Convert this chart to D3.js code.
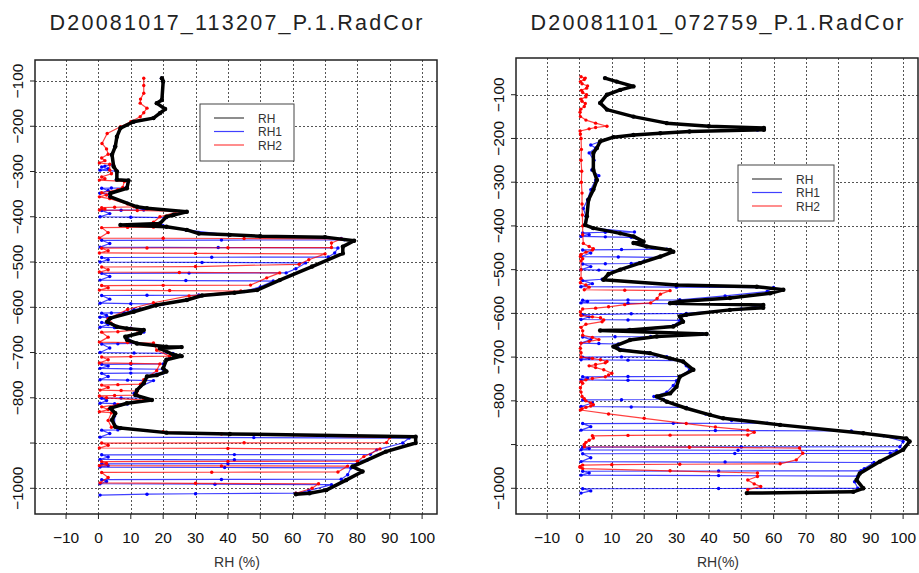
<!DOCTYPE html>
<html>
<head>
<meta charset="utf-8">
<script src="https://cdn.jsdelivr.net/npm/d3@7"></script>
<style>
  body { margin: 0; background: #fff; }
  svg { display: block; font-family: "Liberation Sans", Arial, Helvetica, sans-serif; }
</style>
</head>
<body>
<div id="chart"></div>
<script>
// pressure (hPa) / RH (%) pairs
const leftRH = [[94,19.6],[101,20],[142,19.6],[149,18],[162,20.6],[171,19],[182,17],[190,10.8],[204,6.8],[223,5.7],[245,5.2],[263,4.2],[289,4.7],[300,5.7],[318,5.7],[320,9.3],[337,8.8],[348,3.7],[356,3.7],[378,11.9],[381,15],[389,27.3],[396,23.2],[400,21],[415,19],[418,6.8],[422,21],[429,27.3],[437,31],[440,40.6],[443,50],[445,70],[453,79],[466,75.5],[481,75.5],[510,66],[540,56],[562,49],[568,42],[574,32],[584,27.3],[595,18],[610,10.9],[624,3.7],[632,2.7],[643,5.7],[647,8.8],[650,14],[657,12.9],[665,8.3],[672,8.8],[680,11.9],[687,21],[688,25.7],[691,19],[705,23.2],[708,25.7],[716,21],[735,20],[742,21],[750,18],[753,15],[768,14],[783,11.9],[794,11.4],[805,16.5],[812,8.8],[823,3.7],[834,5.2],[849,4.2],[864,5.2],[867,6.8],[877,21],[880,40.6],[886,98],[900,98],[919,88.8],[952,78.5],[963,81.6],[982,76.5],[1004,70.4],[1011,65.2],[1013,61]];

const leftRH1 = [[94,19.5],[101,20],[142,19.5],[149,18],[162,20.5],[171,19],[182,17],[190,11],[204,6.8],[223,5.7],[245,5],[263,4],[285,4.5],[288,2],[290,1],[294,3],[297,0.5],[299,5.5],[318,5.5],[320,9],[336,8.5],[336.5,4],[337,1],[342,3],[348,0.5],[350,3.5],[356,3.5],[370,9],[385,14],[385.5,7],[386,1],[393,3.5],[400,0.5],[401,10],[402,21],[415,19],[420,20],[429,27],[440,40],[448,75],[451,76],[451.5,38],[452,1],[459,3.5],[467,0.5],[468,37],[469,74],[480,73],[489,71],[489.5,35],[490,1],[495,3],[500,0.5],[501,32],[502,64],[515,61],[524,58],[524.5,28],[525,1],[532,3.5],[540,0.5],[541,27],[542,54],[555,50],[565,45],[573,31],[573.5,15],[574,1],[582,3.5],[591,0.5],[592,10],[593,20],[605,11],[612,8],[612.5,4],[613,1],[618,2.5],[622,0.5],[623,3],[633,3],[633.5,1],[638,3],[644,0.5],[645,5],[646,10],[655,14],[665,9],[675,10],[680,12],[680.5,6],[681,1],[690,3.5],[700,0.5],[701,11],[702,23],[716,21],[725,20],[725.5,10],[726,1],[730,3],[735,0.5],[736,10],[737,20],[745,20],[745.5,10],[746,1],[753,3],[760,0.5],[761,9],[762,17],[775,13],[790,11],[800,14],[800.5,7],[801,1],[806,2.5],[812,0.5],[813,5],[814,9],[823,4],[840,5],[860,5],[871,6],[871.5,1],[879,3.5],[887,0.5],[888,48],[889,96],[900,94],[915,86],[925,84],[925.5,42],[926,1],[931,3],[936,0.5],[937,42],[938,83],[945,80],[945.5,40],[946,1],[950,3],[953,0.5],[954,39],[955,78],[970,77],[980,75],[980.5,38],[981,1],[985,2.5],[990,0.5],[991,36],[992,72],[1005,65],[1011,61],[1012,30],[1013,15],[1015,0.5]];

const leftRH2 = [[94,14],[110,14],[127,14],[140,13],[149,12.9],[160,15],[170,14],[179,12.9],[190,10],[201,6.8],[216,2.7],[238,1.1],[250,2.5],[262,3],[270,1],[276,2],[281,0.3],[284,3.5],[297,3.5],[305,4],[312,1],[316,2],[319,0.3],[322,8],[335,7.5],[340,6],[347,1],[352,2.5],[356,0.3],[360,3.5],[372,9],[378,11],[379,5],[380,1],[383,2],[385,0.3],[386,12],[388,25],[400,19],[412,17],[423,17],[423.5,9],[424,1],[435,3],[447,0.3],[447.5,20],[448,45],[449,75],[458,72],[468,72],[468.5,40],[469,15],[469.5,1],[475,3],[480,0.3],[481,30],[482,70],[495,65],[505,62],[510,30],[511,1],[517,3],[522,0.3],[523,25],[524,56],[535,52],[551,47],[551.5,20],[552,1],[557,3],[562,0.3],[563,22],[564,44],[575,28],[590,17],[605,9],[625,3],[640,5],[647,10],[650,12],[654,6],[655,1],[666,3],[677,0.3],[678,9],[679,17],[695,18],[708,22],[709,10],[710,1],[716,3],[723,0.3],[724,10],[725,19],[740,18],[760,14],[770,13],[771,6],[772,1],[777,3],[783,0.5],[784,7],[785,12],[794,12],[795,5],[796,0.3],[800,2.5],[805,14],[815,6],[820,1],[826,3],[831,0.3],[833,4],[850,3],[865,4],[875,20],[880,38],[888,90],[899,89],[899.5,45],[900,1],[905,3],[911,0.3],[912,40],[913,87],[930,82],[940,80],[940.5,40],[941,1],[945,2.5],[950,0.3],[950.5,38],[951,77],[964,74],[964.5,35],[965,1],[976,3],[988,0.5],[989,30],[990,68],[1000,66],[1011,61]];

const rightRH = [[62,7.9],[70,11.5],[81,16.7],[89,12.6],[100,8.5],[119,6.4],[134,8.5],[150,16.7],[165,27],[172,40],[176,57],[180,57],[184,34],[188,25],[192,16.7],[197,10.5],[207,6.4],[222,5.4],[233,4.3],[272,4.3],[295,5.4],[317,4.3],[340,2.8],[378,2.3],[398,1.8],[405,4.3],[417,12.6],[424,16.7],[436,19.8],[439,16.7],[447,20.8],[455,28],[459,29],[470,25],[485,18.7],[500,12.6],[510,9],[523,7.4],[535,30],[539,54.8],[546,63],[554,58.9],[565,46.5],[573,31],[577,28],[581,56.8],[587,56.8],[592,46.5],[603,33],[607,31],[619,32],[630,29],[638,15.6],[639,6.4],[647,39.3],[653,23.9],[661,15.6],[676,10.5],[684,12.6],[691,21.8],[703,28],[710,32],[729,35.2],[745,31],[768,30],[783,28],[790,23.9],[802,27],[817,33],[832,40.3],[840,44.4],[855,62],[874,87.7],[886,101],[893,102],[912,100],[939,92.8],[966,86.6],[981,85.6],[1000,87.7],[1008,84.6],[1011,51.7]];

const rightRH1 = [[62,7.9],[70,11.5],[81,16.5],[89,12.6],[100,8.5],[119,6.4],[134,8.5],[150,16.5],[165,27],[172,40],[177,55],[181,55],[184,34],[188,25],[192,16.5],[197,10.5],[207,6.4],[215,3.5],[222,5],[233,3],[250,4.5],[272,3.8],[285,6],[295,5],[317,3.5],[340,2.5],[360,1.2],[378,2],[398,1.6],[405,4],[414,17],[414.5,8],[416,1],[420,3],[424,0.5],[425,8],[426,16],[436,19.5],[440,17],[447,20.5],[453,27],[454,13],[455,1],[462,3.5],[470,0.5],[471,12],[472,24],[480,20],[486,16],[486.5,8],[487,1],[493,3.5],[500,0.5],[501,6],[502,12],[512,9],[522,7],[525,1],[532,4],[539,0.5],[540,30],[541,60],[550,58],[560,45],[569,31],[569.5,15],[570,1],[573,2.5],[576,0.5],[577,15],[578,30],[582,56],[590,50],[600,33],[601,16],[603,1],[608,3],[614,0.5],[615,15],[616,31],[628,29],[638,15],[647,38],[653,22],[653.5,11],[654,1],[660,3.5],[668,0.5],[669,6],[670,12],[680,12],[690,21],[699,27],[699.5,13],[700,1],[703,3],[706,0.5],[707,15],[708,31],[720,33],[730,34],[744,31],[744.5,15],[745,1],[748,2.5],[752,0.5],[753,15],[754,30],[765,29],[780,27],[790,23],[797,26],[797.5,13],[798,1],[805,4],[813,0.5],[814,16],[815,33],[830,39],[845,47],[851,58],[851.5,29],[852,1],[859,3.5],[867,0.5],[868,42],[869,84],[880,94],[893,100],[905,99],[905.5,50],[906,1],[909,3],[912,0.5],[913,49],[914,98],[920,96],[920.5,48],[921,1],[930,3.5],[939,0.5],[940,45],[941,91],[955,88],[960,87],[960.5,43],[961,1],[965,3],[970,0.5],[971,43],[972,86],[985,85],[1000,86],[1000.5,43],[1001,1],[1006,3.5],[1011,0.5]];

const rightRH2 = [[59,0.5],[62,1.8],[65,1.5],[70,0.3],[75,0.8],[80,2.5],[85,2.2],[90,0.6],[95,1],[100,2.2],[105,2],[110,0.5],[115,0.8],[120,1.8],[127,1.5],[133,0.4],[140,0.2],[150,0.3],[158,2],[165,5],[172,8.5],[175,5],[178,3],[183,0.2],[190,0.3],[200,0.5],[225,0.6],[250,0.5],[275,0.7],[300,0.6],[325,0.8],[350,0.8],[375,0.9],[400,1],[420,1],[440,1.2],[447,3],[452,4.3],[455,4],[460,2],[465,0.5],[470,0.3],[475,1],[480,0.5],[500,0.5],[520,0.5],[530,0.3],[535,2],[540,3],[546,1.5],[547,14],[548,28],[556,25],[566,24],[576,22],[580,14],[585,9],[588,5],[590,1],[597,0.3],[605,0.5],[608,4],[610,6.5],[615,7.5],[619,7],[625,2],[632,0.5],[640,1],[650,1],[655,4],[660,6],[664,3],[668,0.5],[680,0.3],[690,0.5],[700,0.5],[703,4],[706,6.5],[710,8.5],[713,8],[717,5],[720,3],[724,5],[729,7.5],[737,10],[741,9],[745,8],[749,4],[752,2],[756,0.5],[760,1],[770,0.3],[780,0.5],[790,0.8],[795,1.5],[800,2],[805,3.5],[809,4.3],[812,3.5],[815,2],[818,0.8],[821,0.3],[830,9],[840,20],[852,33],[860,42],[867,52],[872,54],[878,52],[878.5,28],[879,15],[880,4],[885,4.3],[890,3],[895,2],[900,1.5],[905,1.5],[906,34],[908,68],[920,69],[935,67],[944,62],[945,31],[946,10],[947,1],[950,0.2],[952,0.2],[955,1],[960,28],[965,55],[973,55],[981,52],[990,54],[996,56],[1003,52],[1011,52]];

const xTicks = [-10, 0, 10, 20, 30, 40, 50, 60, 70, 80, 90, 100];
const yTicks = [100, 200, 300, 400, 500, 600, 700, 800, 900, 1000];
const yLabelled = [100, 200, 300, 400, 500, 600, 700, 800, 1000];
const seriesNames = ["RH", "RH1", "RH2"];
const seriesColors = ["#000000", "#0000ff", "#ff0000"];

const panels = [
  {title: "D20081017_113207_P.1.RadCor", xlab: "RH (%)",
   box: {x0: 35, x1: 437, y0: 60, y1: 514}, pDomain: [53.6, 1056.8],
   data: [leftRH1, leftRH2, leftRH],
   legend: {x: 200, y: 104, w: 94, h: 57}},
  {title: "D20081101_072759_P.1.RadCor", xlab: "RH(%)",
   box: {x0: 516, x1: 918, y0: 58, y1: 514}, pDomain: [16, 1058.8],
   data: [rightRH1, rightRH2, rightRH],
   legend: {x: 738, y: 165, w: 96, h: 56}}
];

const svg = d3.select("#chart").append("svg")
  .attr("width", 919)
  .attr("height", 573);

panels.forEach(panel => {
  const b = panel.box;
  const x = d3.scaleLinear().domain([-19.6, 104.6]).range([b.x0, b.x1]);
  const y = d3.scaleLinear().domain(panel.pDomain).range([b.y0, b.y1]);
  const g = svg.append("g");

  // title
  g.append("text")
    .attr("x", (b.x0 + b.x1) / 2)
    .attr("y", 30)
    .attr("text-anchor", "middle")
    .attr("textLength", 373)
    .attr("lengthAdjust", "spacing")
    .style("font-size", "21.5px")
    .style("fill", "#222")
    .text(panel.title);

  // dotted grid
  g.selectAll(".vgrid").data(xTicks).enter().append("line")
    .attr("x1", d => Math.round(x(d)) + 0.5).attr("x2", d => Math.round(x(d)) + 0.5)
    .attr("y1", b.y0).attr("y2", b.y1)
    .attr("stroke", "#555").attr("stroke-dasharray", "2,2");
  g.selectAll(".hgrid").data(yTicks).enter().append("line")
    .attr("x1", b.x0).attr("x2", b.x1)
    .attr("y1", d => Math.round(y(d)) + 0.5).attr("y2", d => Math.round(y(d)) + 0.5)
    .attr("stroke", "#555").attr("stroke-dasharray", "2,2");

  const line = d3.line().x(d => x(d[1])).y(d => y(d[0]));

  panel.data.forEach((series, i) => {
    const isRH = i === 2;
    const color = isRH ? seriesColors[0] : seriesColors[i + 1];
    g.append("path")
      .datum(series)
      .attr("d", line)
      .attr("fill", "none")
      .attr("stroke", color)
      .attr("stroke-opacity", isRH ? 1 : 0.75)
      .attr("stroke-width", isRH ? 3.5 : 1.2)
      .attr("stroke-linejoin", "round");
    g.selectAll(null).data(series).enter().append("circle")
      .attr("cx", d => x(d[1]))
      .attr("cy", d => y(d[0]))
      .attr("r", isRH ? 2.2 : 1.7)
      .attr("fill", color);
  });

  // box
  g.append("rect")
    .attr("x", b.x0).attr("y", b.y0)
    .attr("width", b.x1 - b.x0).attr("height", b.y1 - b.y0)
    .attr("fill", "none").attr("stroke", "#222").attr("stroke-width", 1.5);

  // x axis
  g.selectAll(".xtick").data(xTicks).enter().append("line")
    .attr("x1", d => x(d)).attr("x2", d => x(d))
    .attr("y1", b.y1).attr("y2", b.y1 + 5)
    .attr("stroke", "#222");
  g.selectAll(".xlab").data(xTicks).enter().append("text")
    .attr("x", d => x(d))
    .attr("y", 543)
    .attr("text-anchor", "middle")
    .style("font-size", "15.5px")
    .style("fill", "#111")
    .text(d => d < 0 ? "\u2212" + Math.abs(d) : d);
  g.append("text")
    .attr("x", (b.x0 + b.x1) / 2 + 1)
    .attr("y", 567)
    .attr("text-anchor", "middle")
    .style("font-size", "14px")
    .style("fill", "#333")
    .text(panel.xlab);

  // y axis (pressure plotted as negative values)
  g.selectAll(".ytick").data(yTicks).enter().append("line")
    .attr("x1", b.x0 - 5).attr("x2", b.x0)
    .attr("y1", d => y(d)).attr("y2", d => y(d))
    .attr("stroke", "#222");
  g.selectAll(".ylab").data(yLabelled).enter().append("text")
    .attr("transform", d => `translate(${b.x0 - 12},${y(d)}) rotate(-90)`)
    .attr("text-anchor", "middle")
    .style("font-size", "15.5px")
    .style("fill", "#111")
    .text(d => "\u2212" + d);

  // legend
  const L = panel.legend;
  const lg = g.append("g");
  lg.append("rect")
    .attr("x", L.x).attr("y", L.y).attr("width", L.w).attr("height", L.h)
    .attr("fill", "#fff").attr("stroke", "#444").attr("stroke-width", 1);
  seriesNames.forEach((name, i) => {
    const ry = L.y + 14 + i * 13.5;
    lg.append("line")
      .attr("x1", L.x + 14).attr("x2", L.x + 44)
      .attr("y1", ry).attr("y2", ry)
      .attr("stroke", seriesColors[i]).attr("stroke-opacity", 0.75).attr("stroke-width", 1.2);
    lg.append("text")
      .attr("x", L.x + 58).attr("y", ry + 4.5)
      .style("font-size", "12px")
      .style("fill", "#333")
      .text(name);
  });
});
</script>
</body>
</html>
